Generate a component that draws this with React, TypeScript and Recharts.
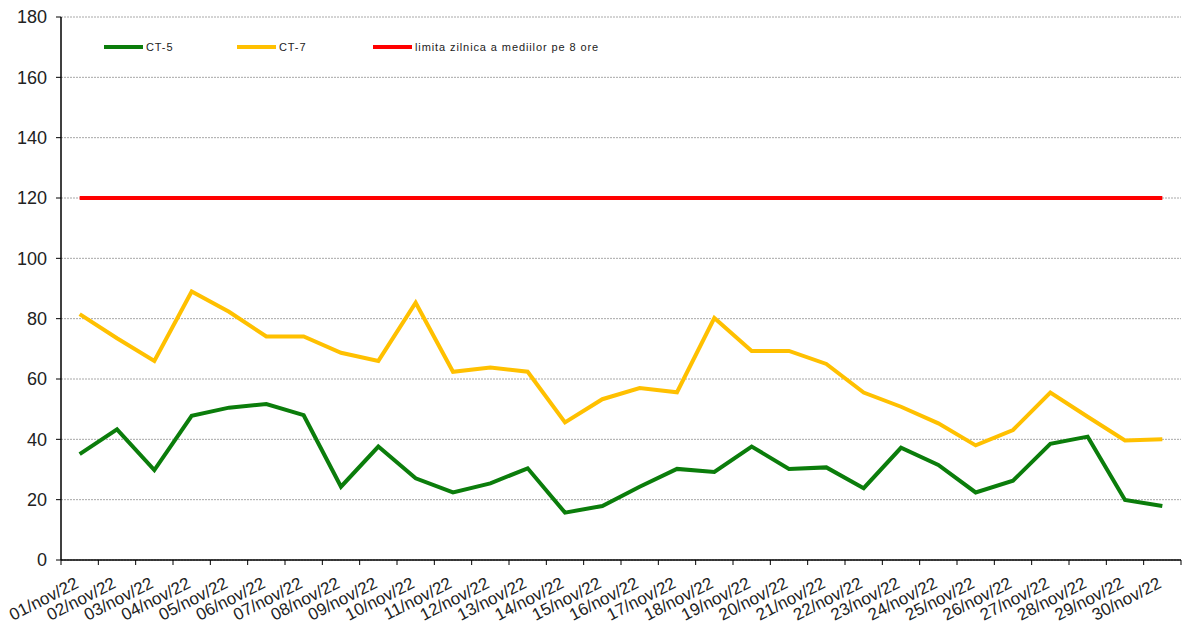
import { LineChart, Line, XAxis, YAxis, CartesianGrid, Legend } from 'recharts';

const W = 1182;
const H = 625;
const PLOT_LEFT = 61;
const PLOT_RIGHT = 1;
const BAND = (W - PLOT_LEFT - PLOT_RIGHT) / 30;

const GREEN = '#0b7d0b';
const YELLOW = '#ffc000';
const RED = '#ff0000';

const days = [
  '01/nov/22', '02/nov/22', '03/nov/22', '04/nov/22', '05/nov/22', '06/nov/22',
  '07/nov/22', '08/nov/22', '09/nov/22', '10/nov/22', '11/nov/22', '12/nov/22',
  '13/nov/22', '14/nov/22', '15/nov/22', '16/nov/22', '17/nov/22', '18/nov/22',
  '19/nov/22', '20/nov/22', '21/nov/22', '22/nov/22', '23/nov/22', '24/nov/22',
  '25/nov/22', '26/nov/22', '27/nov/22', '28/nov/22', '29/nov/22', '30/nov/22',
];

const ct5 = [
  35.1, 43.3, 29.8, 47.8, 50.5, 51.7, 48.0, 24.3, 37.6, 27.1,
  22.4, 25.4, 30.4, 15.7, 17.9, 24.3, 30.2, 29.2, 37.6, 30.2,
  30.7, 23.8, 37.2, 31.5, 22.4, 26.3, 38.5, 40.9, 19.9, 17.9,
];

const ct7 = [
  81.5, 73.5, 66.0, 89.0, 82.3, 74.1, 74.1, 68.7, 66.0, 85.3,
  62.4, 63.8, 62.4, 45.6, 53.3, 57.0, 55.6, 80.2, 69.3, 69.3,
  65.0, 55.5, 50.8, 45.3, 38.0, 43.1, 55.5, 47.5, 39.6, 40.0,
];

const LIMIT = 120;
const yTicks = [0, 20, 40, 60, 80, 100, 120, 140, 160, 180];

const legendItems = [
  { label: 'CT-5', color: GREEN, width: 133 },
  { label: 'CT-7', color: YELLOW, width: 136 },
  { label: 'limita zilnica a mediilor pe 8 ore', color: RED, width: 230 },
];

const data = days.map((d, i) => ({
  day: d,
  ct5: ct5[i],
  ct7: ct7[i],
  limit: LIMIT,
}));

function DayTick(props: any) {
  const { x, y, payload, index } = props;
  const left = x - BAND / 2;
  return (
    <g>
      <line x1={left} y1={y} x2={left} y2={y + 5} stroke="#000" strokeWidth={1} />
      {index === days.length - 1 && (
        <line x1={x + BAND / 2} y1={y} x2={x + BAND / 2} y2={y + 5} stroke="#000" strokeWidth={1} />
      )}
      <text
        transform={`translate(${x},${y + 27}) rotate(-27)`}
        textAnchor="end"
        fontSize={17}
        fill="#222"
        fontFamily="Liberation Sans, Arial, sans-serif"
      >
        {payload.value}
      </text>
    </g>
  );
}

function LegendBox() {
  return (
    <div style={{ display: 'flex', alignItems: 'center', fontFamily: 'Liberation Sans, Arial, sans-serif', fontSize: 11, color: '#222' }}>
      {legendItems.map((it) => (
        <div key={it.label} style={{ display: 'flex', alignItems: 'center', width: it.width }}>
          <span style={{ display: 'inline-block', width: 39, height: 4, background: it.color, marginRight: 3 }} />
          <span style={{ letterSpacing: 0.9 }}>{it.label}</span>
        </div>
      ))}
    </div>
  );
}

export default function App() {
  return (
    <div style={{ position: 'absolute', left: 0, top: 0, width: W, height: H, background: '#fff' }}>
      <LineChart width={W} height={H} data={data} margin={{ top: 17, right: PLOT_RIGHT, bottom: 0, left: 0 }}>
        <CartesianGrid horizontal vertical={false} stroke="#a8a8a8" strokeDasharray="2 1" />
        <XAxis
          dataKey="day"
          interval={0}
          height={65}
          padding={{ left: BAND / 2, right: BAND / 2 }}
          tickLine={false}
          tickSize={0}
          tickMargin={0}
          axisLine={{ stroke: '#000', strokeWidth: 1.5 }}
          tick={<DayTick />}
        />
        <YAxis
          domain={[0, 180]}
          ticks={yTicks}
          width={PLOT_LEFT}
          tickSize={5}
          tickMargin={9}
          axisLine={{ stroke: '#000', strokeWidth: 1.5 }}
          tickLine={{ stroke: '#000' }}
          tick={{ fontSize: 18, fill: '#222', fontFamily: 'Liberation Sans, Arial, sans-serif' }}
        />
        <Legend
          layout="horizontal"
          verticalAlign="middle"
          align="center"
          content={() => <LegendBox />}
          wrapperStyle={{ position: 'absolute', top: 41, left: 104, width: 560 }}
        />
        <Line type="linear" dataKey="ct5" name="CT-5" stroke={GREEN} strokeWidth={4} dot={false} isAnimationActive={false} />
        <Line type="linear" dataKey="ct7" name="CT-7" stroke={YELLOW} strokeWidth={4} dot={false} isAnimationActive={false} />
        <Line type="linear" dataKey="limit" name="limita zilnica a mediilor pe 8 ore" stroke={RED} strokeWidth={4} dot={false} isAnimationActive={false} />
      </LineChart>
    </div>
  );
}
